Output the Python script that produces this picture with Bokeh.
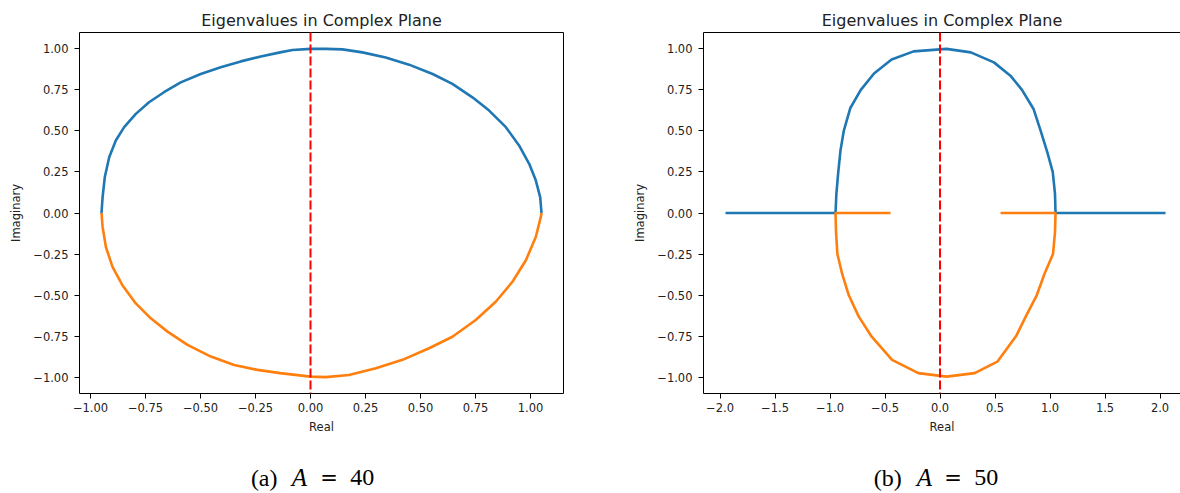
from bokeh.plotting import figure
from bokeh.layouts import row, column
from bokeh.models import FixedTicker, LinearAxis, Span, Range1d
from bokeh.core.properties import value
from bokeh.embed import file_html
from bokeh.resources import INLINE

BLUE = "#1f77b4"
ORANGE = "#ff7f0e"
INK = "#222222"
SANS = "DejaVu Sans"
SERIF = "Liberation Serif"

# ---- eigenvalue branches, A = 40 -------------------------------------------
a_upper_re = [-0.95, -0.945, -0.935, -0.915, -0.885, -0.847, -0.794, -0.734,
              -0.666, -0.590, -0.499, -0.408, -0.317, -0.226, -0.138, -0.082,
              0.0, 0.07, 0.145, 0.236, 0.342, 0.448, 0.555, 0.645, 0.736,
              0.812, 0.888, 0.948, 0.994, 1.024, 1.044, 1.05]
a_upper_im = [0.0, 0.097, 0.219, 0.340, 0.442, 0.523, 0.604, 0.675,
              0.736, 0.796, 0.847, 0.888, 0.924, 0.954, 0.979, 0.993,
              1.0, 1.0, 0.997, 0.979, 0.948, 0.904, 0.847, 0.787, 0.705,
              0.624, 0.523, 0.412, 0.300, 0.199, 0.097, 0.0]
a_lower_re = [-0.95, -0.945, -0.930, -0.900, -0.855, -0.794, -0.726, -0.650,
              -0.559, -0.453, -0.347, -0.241, -0.138, 0.0, 0.07, 0.175,
              0.297, 0.418, 0.539, 0.645, 0.751, 0.842, 0.918, 0.979,
              1.024, 1.047, 1.05]
a_lower_im = [0.0, -0.085, -0.207, -0.328, -0.440, -0.551, -0.642, -0.723,
              -0.804, -0.875, -0.926, -0.956, -0.976, -0.997, -1.0, -0.987,
              -0.946, -0.895, -0.824, -0.754, -0.652, -0.541, -0.419, -0.288,
              -0.146, -0.024, 0.0]

# ---- eigenvalue branches, A = 50 (real stretches on the axis) ---------------
b_upper_re = [-1.95, -0.95, -0.942, -0.925, -0.905, -0.875, -0.815, -0.72,
              -0.60, -0.44, -0.24, 0.059, 0.28, 0.49, 0.64, 0.745, 0.85,
              0.915, 0.975, 1.025, 1.045, 1.05, 2.05]
b_upper_im = [0.0, 0.0, 0.118, 0.249, 0.38, 0.50, 0.64, 0.75,
              0.85, 0.935, 0.985, 1.0, 0.979, 0.918, 0.837, 0.75, 0.634,
              0.50, 0.371, 0.249, 0.118, 0.0, 0.0]
b_lower_re = [-0.45, -0.95, -0.945, -0.933, -0.89, -0.83, -0.74, -0.625,
              -0.436, -0.197, 0.059, 0.315, 0.521, 0.692, 0.78, 0.88,
              0.95, 1.027, 1.045, 1.05, 0.55]
b_lower_im = [0.0, 0.0, -0.118, -0.25, -0.37, -0.5, -0.63, -0.75,
              -0.895, -0.976, -0.997, -0.976, -0.906, -0.75, -0.63, -0.5,
              -0.37, -0.25, -0.118, 0.0, 0.0]

# stability boundary Re = 0
boundary_re = 0.0

# ---- ticks -------------------------------------------------------------------
y_ticks = [-1.0, -0.75, -0.5, -0.25, 0.0, 0.25, 0.5, 0.75, 1.0]
y_tick_labels = ["\u22121.00", "\u22120.75", "\u22120.50", "\u22120.25", "0.00",
                 "0.25", "0.50", "0.75", "1.00"]
a_x_ticks = [-1.0, -0.75, -0.5, -0.25, 0.0, 0.25, 0.5, 0.75, 1.0]
a_x_tick_labels = ["\u22121.00", "\u22120.75", "\u22120.50", "\u22120.25", "0.00",
                   "0.25", "0.50", "0.75", "1.00"]
b_x_ticks = [-2.0, -1.5, -1.0, -0.5, 0.0, 0.5, 1.0, 1.5, 2.0]
b_x_tick_labels = ["\u22122.0", "\u22121.5", "\u22121.0", "\u22120.5", "0.0",
                   "0.5", "1.0", "1.5", "2.0"]

caption_a = ["(a)", "A", "=", "40"]
caption_b = ["(b)", "A", "=", "50"]

TICK_SIZE = "11.5px"
CAPTION_H = 42


def bare_axis():
    ax = LinearAxis(ticker=FixedTicker(ticks=[]))
    ax.major_label_text_font_size = "0px"
    ax.major_tick_in = ax.major_tick_out = 0
    ax.minor_tick_in = ax.minor_tick_out = 0
    ax.axis_line_color = "black"
    ax.axis_line_width = 1
    return ax


def panel(x_range, frame_w, border_left, border_right, x_ticks, x_labels,
          upper_re, upper_im, lower_re, lower_im, closed_right):
    p = figure(frame_width=frame_w, frame_height=361,
               x_range=x_range, y_range=Range1d(-1.1, 1.1),
               min_border_left=border_left, min_border_right=border_right,
               min_border_top=32, min_border_bottom=100 - CAPTION_H,
               title="Eigenvalues in Complex Plane",
               x_axis_label="Real", y_axis_label="Imaginary",
               output_backend="svg", toolbar_location=None)
    p.background_fill_color = "white"
    p.border_fill_color = "white"
    p.outline_line_color = None
    p.xgrid.visible = False
    p.ygrid.visible = False

    p.title.text_font = SANS
    p.title.text_font_size = "16px"
    p.title.text_font_style = "normal"
    p.title.text_color = INK
    p.title.align = "center"
    p.title.standoff = 5

    for ax, ticks, labels in ((p.xaxis[0], x_ticks, x_labels),
                              (p.yaxis[0], y_ticks, y_tick_labels)):
        ax.ticker = FixedTicker(ticks=ticks)
        ax.major_label_overrides = dict(zip(ticks, labels))
        ax.major_tick_in = 0
        ax.major_tick_out = 5
        ax.minor_tick_in = 0
        ax.minor_tick_out = 0
        ax.axis_line_color = "black"
        ax.axis_line_width = 1
        ax.major_tick_line_color = "black"
        ax.major_label_text_font = SANS
        ax.major_label_text_font_size = TICK_SIZE
        ax.major_label_text_color = INK
        ax.axis_label_text_font = SANS
        ax.axis_label_text_font_size = TICK_SIZE
        ax.axis_label_text_font_style = "normal"
        ax.axis_label_text_color = INK
    p.xaxis[0].major_label_standoff = 4
    p.xaxis[0].axis_label_standoff = 5
    p.yaxis[0].major_label_standoff = 6
    p.yaxis[0].axis_label_standoff = 7

    p.add_layout(bare_axis(), "above")
    if closed_right:
        p.add_layout(bare_axis(), "right")

    p.line(upper_re, upper_im, line_color=BLUE, line_width=2.6)
    p.line(lower_re, lower_im, line_color=ORANGE, line_width=2.6)
    p.add_layout(Span(location=boundary_re, dimension="height",
                      line_color="red", line_width=2, line_dash="9 3"))
    return p


def caption_strip(frame_w, caption, centers):
    # blank strip (pixel coordinates) under a panel, sharing its frame width
    c = figure(frame_width=frame_w, frame_height=CAPTION_H,
               x_range=Range1d(0, frame_w), y_range=Range1d(0, CAPTION_H),
               min_border=0, output_backend="svg", toolbar_location=None)
    c.axis.visible = False
    c.grid.visible = False
    c.outline_line_color = None
    c.background_fill_color = "white"
    c.border_fill_color = "white"
    styles = [(SERIF, "normal", "24px"), (SERIF, "italic", "25px"),
              (SANS, "normal", "21px"), (SERIF, "normal", "24px")]
    for txt, (fam, style, size), cx in zip(caption, styles, centers):
        c.text(x=[cx], y=[16], text=[txt], text_font=value(fam),
               text_font_style=style, text_font_size=size, text_color="black",
               text_align="center", text_baseline="alphabetic")
    return c


p1 = panel(Range1d(-1.05, 1.15), 484, 79, 60, a_x_ticks, a_x_tick_labels,
           a_upper_re, a_upper_im, a_lower_re, a_lower_im, True)
p2 = panel(Range1d(-2.15, 2.186), 477, 80, 0, b_x_ticks, b_x_tick_labels,
           b_upper_re, b_upper_im, b_lower_re, b_lower_im, False)

c1 = caption_strip(484, caption_a, [184.7, 219.8, 249.5, 282.7])
c2 = caption_strip(477, caption_b, [184.2, 221.0, 249.5, 282.8])

layout = row(column(p1, c1), column(p2, c2))
open("out.html", "w").write(file_html(layout, INLINE))
